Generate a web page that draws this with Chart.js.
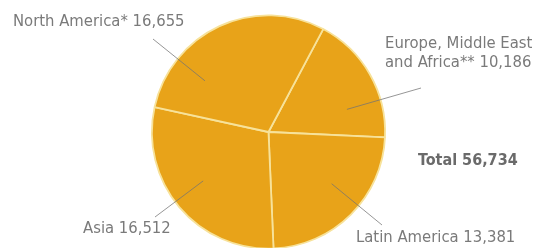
<!DOCTYPE html>
<html>
<head>
<meta charset="utf-8">
<script src="https://cdn.jsdelivr.net/npm/chart.js@4"></script>
<style>
  html, body { margin: 0; padding: 0; background: #fff; overflow: hidden; }
  #wrap { position: relative; width: 535px; height: 260px; }
</style>
</head>
<body>
<div id="wrap"><canvas id="pie"></canvas></div>
<script>
// regions, clockwise from the top
const regions = ["Europe, Middle East|and Africa** 10,186", "Latin America 13,381", "Asia 16,512", "North America* 16,655"];
const values = [10186, 13381, 16512, 16655];
const totalText = "Total 56,734";

// label text anchor + outer end of leader line (layout only)
const labelPos = [
  { x: 385, y: 44, lx: 421, ly: 88 },
  { x: 356, y: 238, lx: 382, ly: 225 },
  { x: 83, y: 229, lx: 155, ly: 217 },
  { x: 13, y: 22, lx: 153, ly: 39 }
];

const fontFam = "'Liberation Sans Narrow', 'DejaVu Sans Condensed', sans-serif";

const labelsPlugin = {
  id: "labels",
  afterDraw(chart) {
    const ctx = chart.ctx;
    const arcs = chart.getDatasetMeta(0).data;
    ctx.save();
    arcs.forEach((arc, i) => {
      const p = arc.getProps(["x", "y", "startAngle", "endAngle", "outerRadius"], true);
      const lp = labelPos[i];
      // leader runs radially toward the label, kept inside its own slice
      let a = Math.atan2(lp.ly - p.y, lp.lx - p.x);
      while (a < p.startAngle) a += Math.PI * 2;
      while (a > p.endAngle) a -= Math.PI * 2;
      const pad = 0.08;
      a = Math.min(Math.max(a, p.startAngle + pad), p.endAngle - pad);
      const r = p.outerRadius * 0.7;
      const ix = p.x + Math.cos(a) * r;
      const iy = p.y + Math.sin(a) * r;
      ctx.strokeStyle = "rgba(115,115,115,0.75)";
      ctx.lineWidth = 1;
      ctx.beginPath();
      ctx.moveTo(lp.lx, lp.ly);
      ctx.lineTo(ix, iy);
      ctx.stroke();

      ctx.fillStyle = "#7a7a7a";
      ctx.font = "16.5px " + fontFam;
      ctx.textAlign = "left";
      ctx.textBaseline = "middle";
      regions[i].split("|").forEach((line, k) => {
        ctx.fillText(line, lp.x, lp.y + k * 19);
      });
    });
    ctx.fillStyle = "#6a6a6a";
    ctx.font = "bold 16px " + fontFam;
    ctx.textAlign = "left";
    ctx.fillText(totalText, 418, 161);
    ctx.restore();
  }
};

new Chart(document.getElementById("pie"), {
  type: "pie",
  data: {
    labels: regions.map(s => s.replace("|", " ")),
    datasets: [{
      data: values,
      backgroundColor: "#e8a319",
      borderColor: "#f7e29a",
      borderWidth: 1.8
    }]
  },
  options: {
    responsive: true,
    maintainAspectRatio: false,
    animation: false,
    rotation: 28,
    layout: { padding: { top: 14, bottom: 10, left: 151, right: 149 } },
    plugins: {
      legend: { display: false },
      tooltip: { enabled: false }
    }
  },
  plugins: [labelsPlugin]
});
</script>
</body>
</html>
